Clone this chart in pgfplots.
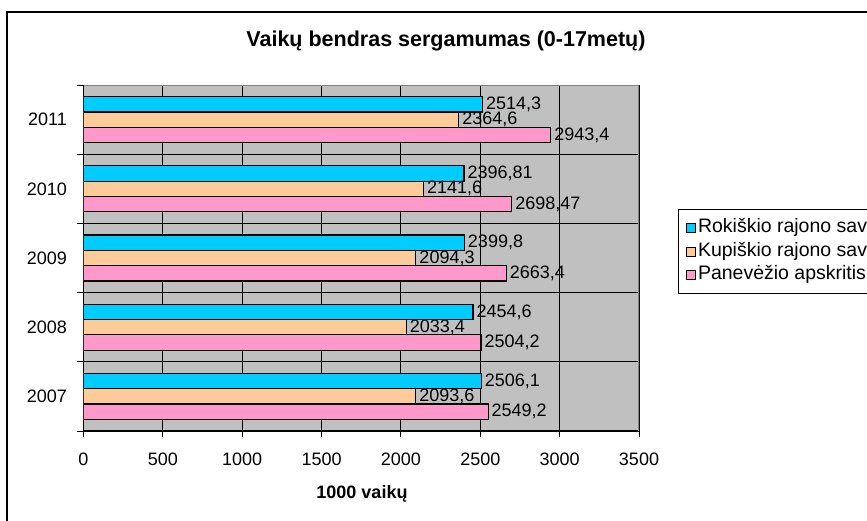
\documentclass[border=0pt]{standalone}
\usepackage{fontspec}
\setmainfont{Liberation Sans}
\usepackage{pgfplots}
\usepackage{pgfplotstable}
\pgfplotsset{compat=1.18}
\definecolor{rok}{HTML}{00CCFF}
\definecolor{kup}{HTML}{FFCC99}
\definecolor{pan}{HTML}{FF99CC}
\definecolor{plotbg}{HTML}{C0C0C0}
\definecolor{bordergray}{HTML}{808080}

\pgfplotstableread{
y x lab
0 2506.1 2506,1
1 2454.6 2454,6
2 2399.8 2399,8
3 2396.81 2396,81
4 2514.3 2514,3
}\rokdata
\pgfplotstableread{
y x lab
0 2093.6 2093,6
1 2033.4 2033,4
2 2094.3 2094,3
3 2141.6 2141,6
4 2364.6 2364,6
}\kupdata
\pgfplotstableread{
y x lab
0 2549.2 2549,2
1 2504.2 2504,2
2 2663.4 2663,4
3 2698.47 2698,47
4 2943.4 2943,4
}\pandata

\begin{document}
\begin{tikzpicture}[x=1pt,y=1pt]
\useasboundingbox (0,0) rectangle (867,520);
\draw[line width=2pt] (7,508) rectangle (940,-40);
\node[font=\fontsize{21.5}{24}\selectfont\bfseries, anchor=base, inner sep=0pt] at (446,473) {Vaikų bendras sergamumas (0-17metų)};
\begin{axis}[
  xbar, bar width=0.221,
  at={(83.5pt,89pt)}, anchor=south west,
  width=555.5pt, height=346pt, scale only axis,
  xmin=0, xmax=3500, ymin=-0.5, ymax=4.5,
  xtick={0,500,...,3500},
  ytick={-0.5,0.5,...,4.5},
  yticklabels={},
  extra y ticks={0,1,2,3,4},
  extra y tick labels={2007,2008,2009,2010,2011},
  extra y tick style={major tick length=0pt, grid=none},
  xmajorgrids, ymajorgrids,
  grid style={black, line width=1pt},
  axis background/.style={fill=plotbg},
  axis x line*=bottom, axis y line*=left,
  axis line style={black, line width=1.2pt, -},
  tick style={black, line width=1pt},
  tick align=outside,
  major tick length=6pt,
  /pgf/number format/assume math mode=true,
  /pgf/number format/1000 sep={},
  xticklabel style={font=\fontsize{18}{20}\selectfont, anchor=base, inner sep=0pt, yshift=-28pt},
  yticklabel style={font=\fontsize{18}{20}\selectfont, anchor=east, inner sep=0pt, xshift=-16.5pt},
  legend style={at={(1.0702,0.642)}, anchor=north west, draw=black, line width=1pt,
    font=\fontsize{19.5}{21}\selectfont, fill=white, inner xsep=7pt, inner ysep=7pt,
    row sep=0pt, nodes={text height=14pt, text depth=5pt, inner ysep=2.25pt, inner xsep=2.5pt}},
  legend cell align=left,
  legend image code/.code={\draw[#1, line width=1pt] (0pt,-4.5pt) rectangle (9pt,4.5pt);},
  nodes near coords,
  point meta=explicit symbolic,
  nodes near coords style={font=\fontsize{18}{20}\selectfont, text=black, anchor=west, inner sep=1pt, xshift=2pt},
]
\addplot[bar shift=0.221, fill=rok, draw=black, line width=1.2pt] table[x=x, y=y, meta=lab] {\rokdata};
\addlegendentry{Rokiškio rajono savivaldybė}
\addplot[bar shift=0, fill=kup, draw=black, line width=1.2pt] table[x=x, y=y, meta=lab] {\kupdata};
\addlegendentry{Kupiškio rajono savivaldybė}
\addplot[bar shift=-0.221, fill=pan, draw=black, line width=1.2pt] table[x=x, y=y, meta=lab] {\pandata};
\addlegendentry{Panevėžio apskritis}
\draw[bordergray, line width=1.2pt] (rel axis cs:0,1) -- (rel axis cs:1,1) -- (rel axis cs:1,0);
\end{axis}
\node[font=\fontsize{18}{20}\selectfont\bfseries, anchor=base, inner sep=0pt] at (362,22) {1000 vaikų};
\end{tikzpicture}
\end{document}
